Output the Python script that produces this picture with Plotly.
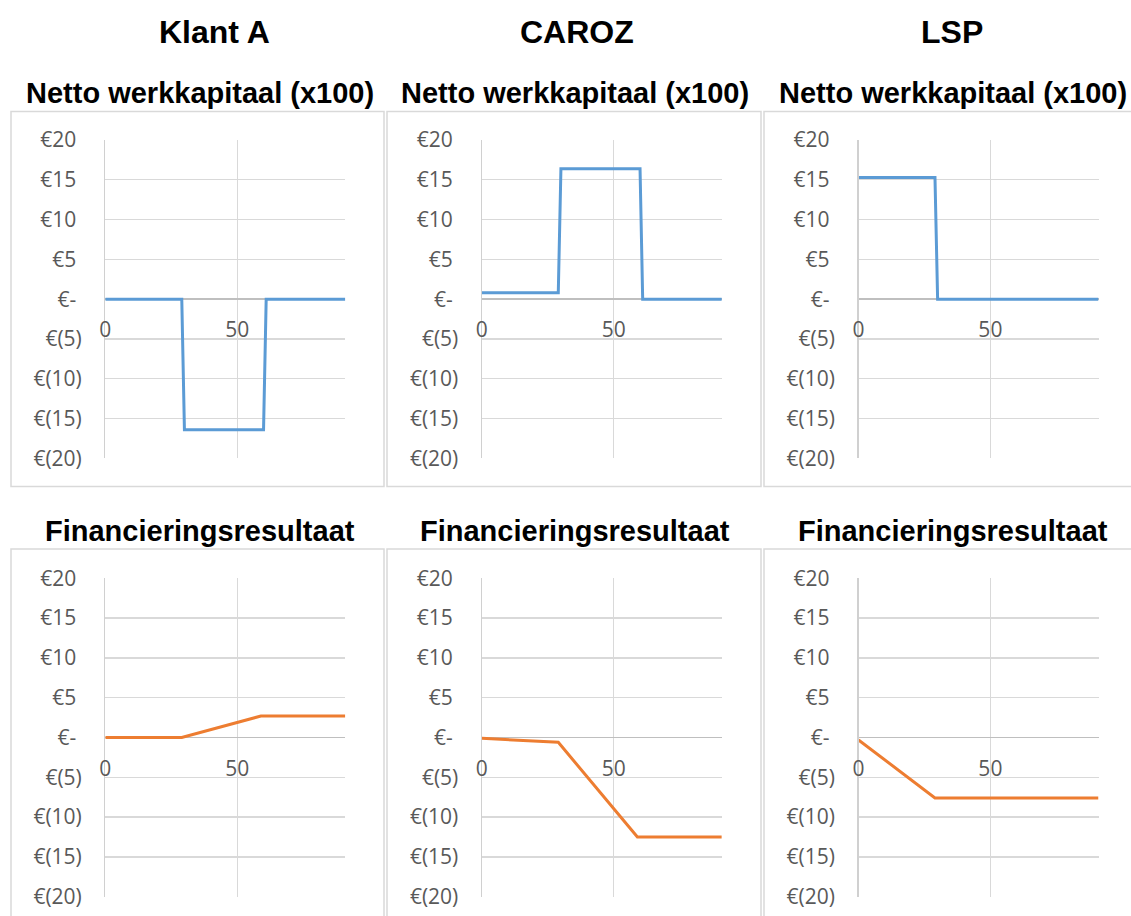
import plotly.graph_objects as go

W, H = 1131, 916

# ---- data ----
column_titles = ["Klant A", "CAROZ", "LSP"]
row_titles = ["Netto werkkapitaal (x100)", "Financieringsresultaat"]

nwk_days_klant_a = [0, 29, 30, 60, 61, 91]
nwk_klant_a = [0, 0, -16.4, -16.4, 0, 0]
nwk_days_caroz = [0, 29, 30, 60, 61, 91]
nwk_caroz = [0.8, 0.8, 16.4, 16.4, 0, 0]
nwk_days_lsp = [0, 29, 30, 91]
nwk_lsp = [15.3, 15.3, 0, 0]

fin_days_klant_a = [0, 29, 59, 91]
fin_klant_a = [0, 0, 2.7, 2.7]
fin_days_caroz = [0, 29, 59, 91]
fin_caroz = [-0.1, -0.6, -12.5, -12.5]
fin_days_lsp = [0, 29, 91]
fin_lsp = [-0.3, -7.6, -7.6]

y_tickvals = [-20, -15, -10, -5, 0, 5, 10, 15, 20]
y_ticktext = ["€(20)", "€(15)", "€(10)", "€(5)", "€-\u00a0", "€5\u00a0", "€10\u00a0", "€15\u00a0", "€20\u00a0"]
x_tickvals = [0, 50]
x_range = [0, 91]

series = [
    (nwk_days_klant_a, nwk_klant_a, "#5B9BD5"),
    (nwk_days_caroz, nwk_caroz, "#5B9BD5"),
    (nwk_days_lsp, nwk_lsp, "#5B9BD5"),
    (fin_days_klant_a, fin_klant_a, "#ED7D31"),
    (fin_days_caroz, fin_caroz, "#ED7D31"),
    (fin_days_lsp, fin_lsp, "#ED7D31"),
]

# ---- layout geometry (pixels) ----
col_x0 = [105.3, 481.8, 858.5]
plot_w = 240.0
row_y = [(140.0, 458.3), (578.3, 896.7)]  # top, bottom pixel of plot area

def px(x):
    return x / W

def py(y):
    return 1 - y / H

fig = go.Figure()
tick_font = dict(family="Open Sans, Liberation Sans, sans-serif", size=21, color="#595959")

layout = dict(
    width=W, height=H,
    margin=dict(l=0, r=0, t=0, b=0, autoexpand=False),
    paper_bgcolor="white", plot_bgcolor="white",
    showlegend=False,
    template="none",
)

for i, (xs, ys, color) in enumerate(series):
    r, c = divmod(i, 3)
    n = i + 1
    xa = "xaxis" if n == 1 else f"xaxis{n}"
    ya = "yaxis" if n == 1 else f"yaxis{n}"
    xr = "x" if n == 1 else f"x{n}"
    yr = "y" if n == 1 else f"y{n}"
    fig.add_trace(go.Scatter(x=xs, y=ys, mode="lines", line=dict(color=color, width=3),
                             xaxis=xr, yaxis=yr, hoverinfo="skip", cliponaxis=False))
    y_top, y_bot = row_y[r]
    ydom = [py(y_bot), py(y_top)]
    layout[xa] = dict(
        domain=[px(col_x0[c]), px(col_x0[c] + plot_w)],
        range=x_range, anchor="free", position=(ydom[0] + ydom[1]) / 2,
        tickvals=x_tickvals, ticktext=[str(v) for v in x_tickvals],
        showgrid=True, gridcolor="#d9d9d9", gridwidth=1.3,
        zeroline=False, showline=False, automargin=False,
        ticks="outside", ticklen=12, tickcolor="rgba(0,0,0,0)",
        tickfont=tick_font, fixedrange=True,
    )
    layout[ya] = dict(
        domain=ydom, range=[-20, 20], anchor=xr,
        tickvals=y_tickvals, ticktext=y_ticktext,
        showgrid=True, gridcolor="#d9d9d9", gridwidth=1.3,
        zeroline=True, zerolinecolor="#bfbfbf", zerolinewidth=1.5,
        showline=True, linecolor="#d0d0d0", linewidth=1.3, automargin=False,
        ticks="outside", ticklen=18, tickcolor="rgba(0,0,0,0)",
        tickfont=tick_font, fixedrange=True,
    )

fig.update_layout(**layout)

# ---- titles ----
title_font = "Liberation Sans, Arial, sans-serif"
col_centers = [214, 577, 952]
for c, t in enumerate(column_titles):
    fig.add_annotation(x=px(col_centers[c]), y=py(32), xref="paper", yref="paper",
                       text=f"<b>{t}</b>", showarrow=False, xanchor="center", yanchor="middle",
                       font=dict(family=title_font, size=32, color="black"))
panel_centers = [200, 575, 953]
row_title_y = [93, 531]
for r, t in enumerate(row_titles):
    for c in range(3):
        fig.add_annotation(x=px(panel_centers[c]), y=py(row_title_y[r]), xref="paper", yref="paper",
                           text=f"<b>{t}</b>", showarrow=False, xanchor="center", yanchor="middle",
                           font=dict(family=title_font, size=29, color="black"))

# ---- panel borders ----
border = dict(color="#d9d9d9", width=1.5)
boxes_x = [(11, 384), (387, 761), (764, 1140)]
boxes_y = [(111.5, 486.5), (549, 930)]
for (x0, x1) in boxes_x:
    for (y0, y1) in boxes_y:
        fig.add_shape(type="rect", xref="paper", yref="paper",
                      x0=px(x0), x1=px(x1), y0=py(y1), y1=py(y0), line=border, layer="below")

fig.write_html(
    "out.html",
    config={"displayModeBar": False, "staticPlot": True},
    post_script="document.body.style.margin='0';document.body.style.overflow='hidden';",
)
